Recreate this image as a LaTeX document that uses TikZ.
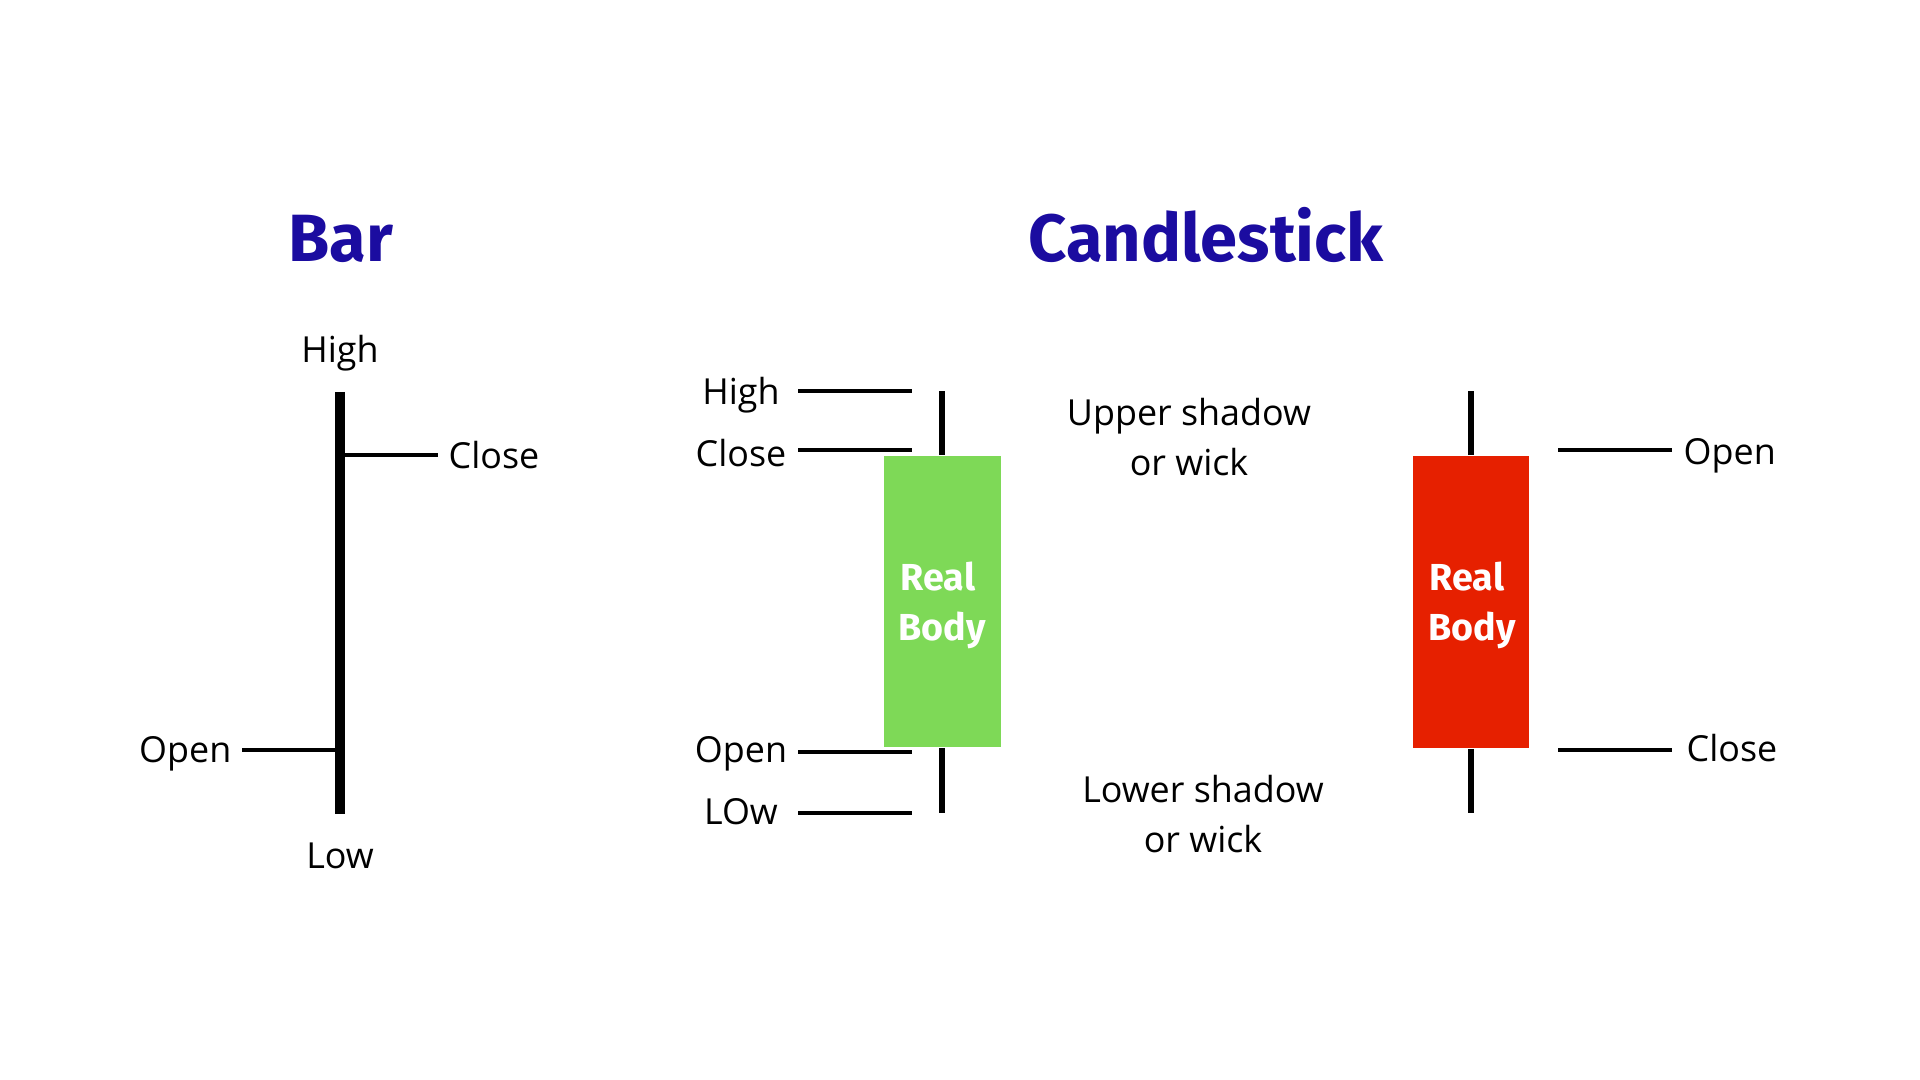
\documentclass[tikz,border=0pt]{standalone}
\usepackage{fontspec}
\setmainfont{Open Sans}
\newfontfamily\fira{Fira Sans}
\definecolor{titleblue}{RGB}{27,12,160}
\definecolor{candgreen}{RGB}{126,217,87}
\definecolor{candred}{RGB}{230,32,0}
\begin{document}
\begin{tikzpicture}[x=0.01cm,y=-0.01cm,
  lbl/.style={font=\fontsize{10.2}{12}\selectfont, inner sep=0pt, anchor=base},
  ttl/.style={font=\fira\bfseries\fontsize{19}{22}\selectfont, text=titleblue, inner sep=0pt, anchor=base},
  bodytxt/.style={font=\fira\bfseries\fontsize{10.7}{12}\selectfont, text=white, inner sep=0pt, anchor=base},
  candlebody/.style={draw=none, inner sep=0pt, minimum width=1.16cm, minimum height=2.91cm},
  tick/.style={line width=1.4pt, line cap=butt},
  wick/.style={line width=1.45pt, line cap=butt},
  barline/.style={line width=2.85pt, line cap=butt}]
\useasboundingbox (0,0) rectangle (1920,1080);
\fill[white] (0,0) rectangle (1920,1080);

% titles
\node[ttl] (tbar) at (341,262) {Bar};
\node[ttl] (tcandle) at (1206,262) {Candlestick};

% ---- Bar chart ----
\coordinate (bhi) at (340,392);
\coordinate (blo) at (340,814);
\draw[barline] (bhi) -- (blo);
\coordinate (bc1) at (340,455);
\coordinate (bc2) at (438,455);
\draw[tick] (bc1) -- (bc2);
\coordinate (bo1) at (242,750);
\coordinate (bo2) at (340,750);
\draw[tick] (bo1) -- (bo2);
\node[lbl] (bhigh) at (340,362.5) {High};
\node[lbl] (blow) at (340,869) {Low};
\node[lbl, anchor=base west] (bclose) at (448,468.5) {Close};
\node[lbl, anchor=base east] (bopen) at (232,762.5) {Open};

% ---- Green candlestick ----
\node[candlebody, fill=candgreen] (gbody) at (942.5,601.5) {};
\coordinate (gtop) at (942,391);
\coordinate (gbot) at (942,813);
\draw[wick] (gbody.north -| gtop) -- (gtop);
\draw[wick] (gbody.south -| gbot) -- (gbot);
\node[bodytxt] (greal) at (938,590.7) {Real};
\node[bodytxt] (gbodyt) at (942,640.7) {Body};

\coordinate (gh1) at (798,391);  \coordinate (gh2) at (912,391);
\coordinate (gc1) at (798,450);  \coordinate (gc2) at (912,450);
\coordinate (go1) at (798,752);  \coordinate (go2) at (912,752);
\coordinate (gl1) at (798,813);  \coordinate (gl2) at (912,813);
\draw[tick] (gh1) -- (gh2);
\draw[tick] (gc1) -- (gc2);
\draw[tick] (go1) -- (go2);
\draw[tick] (gl1) -- (gl2);
\node[lbl] (ghigh) at (741,404.5) {High};
\node[lbl] (gclose) at (741,466.5) {Close};
\node[lbl] (gopen) at (741,762.5) {Open};
\node[lbl] (glow) at (741,824.5) {LOw};

\node[lbl] (upper1) at (1189,425.5) {Upper shadow};
\node[lbl] (upper2) at (1189,475.5) {or wick};
\node[lbl] (lower1) at (1203,802.5) {Lower shadow};
\node[lbl] (lower2) at (1203,852.5) {or wick};

% ---- Red candlestick ----
\node[candlebody, fill=candred, minimum height=2.92cm] (rbody) at (1471,602) {};
\coordinate (rtop) at (1471,391);
\coordinate (rbot) at (1471,813);
\draw[wick] (rbody.north -| rtop) -- (rtop);
\draw[wick] (rbody.south -| rbot) -- (rbot);
\node[bodytxt] (rreal) at (1467,590.7) {Real};
\node[bodytxt] (rbodyt) at (1472,640.7) {Body};

\coordinate (ro1) at (1558,450);  \coordinate (ro2) at (1672,450);
\coordinate (rc1) at (1558,750);  \coordinate (rc2) at (1672,750);
\draw[tick] (ro1) -- (ro2);
\draw[tick] (rc1) -- (rc2);
\node[lbl, anchor=base west] (ropen) at (1683,464.5) {Open};
\node[lbl, anchor=base west] (rclose) at (1686,761.5) {Close};
\end{tikzpicture}
\end{document}
